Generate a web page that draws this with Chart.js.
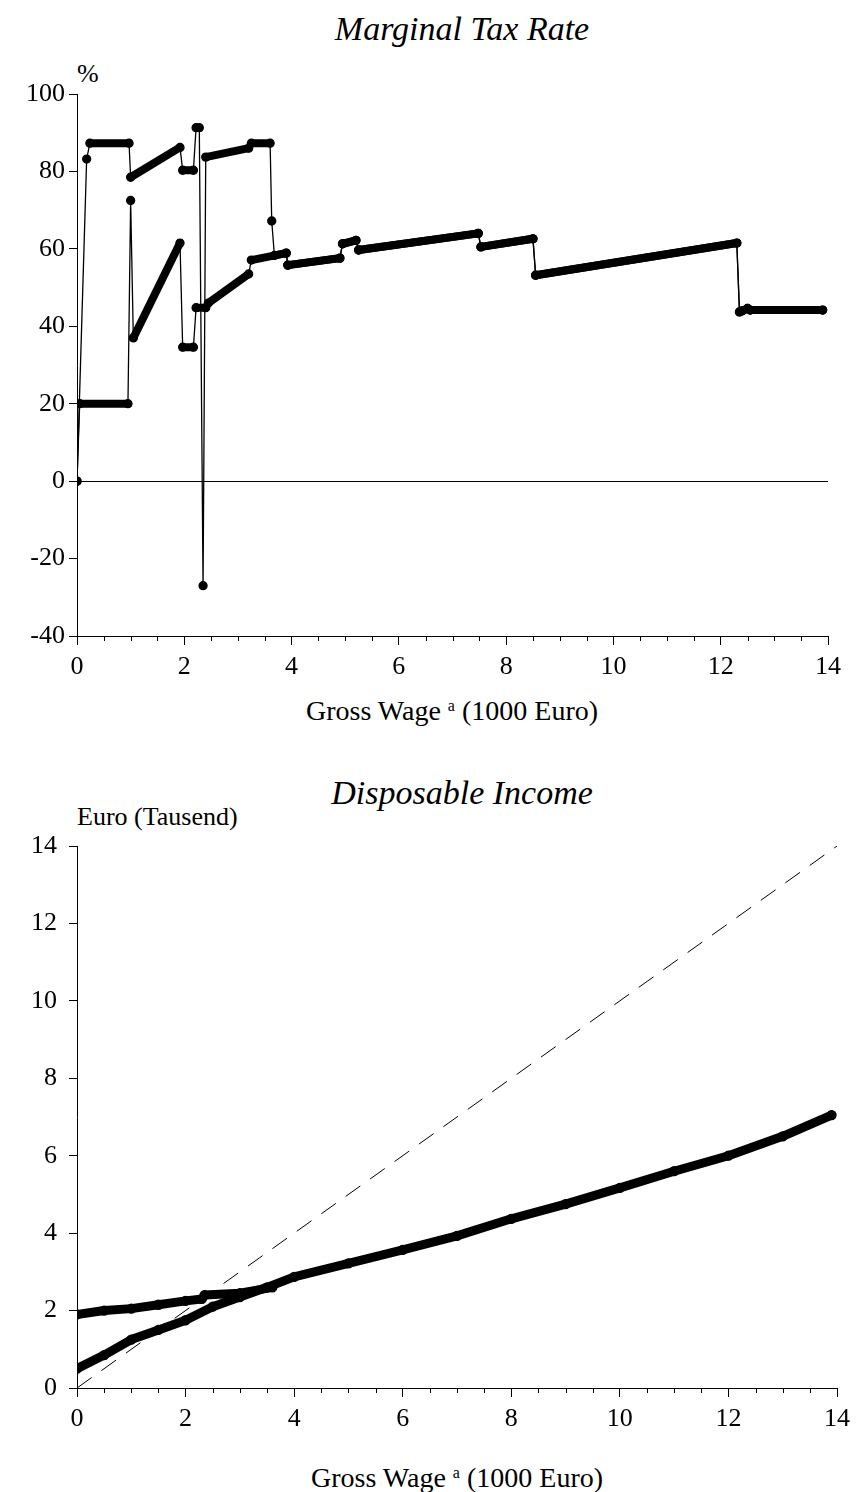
<!DOCTYPE html>
<html>
<head>
    <title>Marginal Tax Rate / Disposable Income</title>
    <script src="https://cdn.jsdelivr.net/npm/chart.js"></script>
    <style>
        body {
            margin: 0;
            background: #fff;
            width: 857px;
            height: 1492px;
            position: relative;
            overflow: hidden;
            font-family: "Liberation Serif", "Times New Roman", serif;
            color: #000;
        }
        canvas { position: absolute; left: 0; }
        #rateChart { top: 0; }
        #incomeChart { top: 740px; }
        .txt { position: absolute; line-height: 1; white-space: nowrap; }
        .title { font-style: italic; font-size: 34px; width: 500px; text-align: center; }
        .unit { font-size: 26px; }
        .xtitle { font-size: 28px; width: 500px; text-align: center; }
        .xtitle sup { font-size: 16px; vertical-align: 9px; }
    </style>
</head>
<body>
    <div class="txt title" style="left:212px; top:12px;">Marginal Tax Rate</div>
    <div class="txt unit" style="left:77px; top:61px;">%</div>
    <div class="txt xtitle" style="left:202px; top:697px;">Gross Wage <sup>a</sup> (1000 Euro)</div>

    <div class="txt title" style="left:212px; top:776px;">Disposable Income</div>
    <div class="txt unit" style="left:77px; top:804px;">Euro (Tausend)</div>
    <div class="txt xtitle" style="left:207px; top:1464px;">Gross Wage <sup>a</sup> (1000 Euro)</div>

    <canvas id="rateChart" width="857" height="740"></canvas>
    <canvas id="incomeChart" width="857" height="752"></canvas>

    <script>
        // Marginal tax rate (%) against gross wage (1000 Euro)
        // upper case (series A) until it rejoins the lower one
        const rateWageA = [0, 0.18, 0.24, 0.97, 1.0, 1.92, 1.97, 2.17, 2.22, 2.28, 2.35, 2.4, 3.2, 3.25, 3.6, 3.63, 3.68];
        const rateA     = [0, 83.2, 87.3, 87.3, 78.5, 86.2, 80.3, 80.3, 91.3, 91.3, -27, 83.7, 86, 87.3, 87.3, 67.2, 58.3];
        // lower case (series B) up to 3.25
        const rateWageB = [0, 0.05, 0.95, 1.0, 1.05, 1.92, 1.97, 2.17, 2.22, 2.4, 2.45, 3.2, 3.25];
        const rateB     = [0, 20, 20, 72.5, 37, 61.5, 34.6, 34.6, 44.8, 44.8, 46, 53.5, 57.1];
        // both cases are the same from here on
        const rateWageTail = [3.9, 3.93, 4.9, 4.95, 5.2, 5.25, 7.48, 7.53, 8.5, 8.55, 12.3, 12.35, 12.4, 12.5, 12.55, 13.9];
        const rateTail     = [58.9, 55.8, 57.6, 61.3, 62.2, 59.7, 64, 60.5, 62.6, 53.2, 61.5, 43.7, 44, 44.6, 44.2, 44.2];

        // Disposable income (1000 Euro)
        const incWageA = [0, 0.5, 1, 1.5, 2, 2.3, 2.35, 3, 3.6];
        const incomeA  = [1.9, 2.0, 2.05, 2.15, 2.25, 2.3, 2.4, 2.45, 2.6];
        const incWageB = [0, 0.5, 1, 1.5, 2, 2.5, 3, 3.5, 4, 5, 6, 7, 8, 9, 10, 11, 12, 13, 13.9];
        const incomeB  = [0.5, 0.85, 1.25, 1.5, 1.75, 2.1, 2.35, 2.6, 2.87, 3.22, 3.57, 3.93, 4.37, 4.75, 5.17, 5.6, 6.0, 6.5, 7.05];
        const diagonal = [0, 14];

        const xTicks = [0, 2, 4, 6, 8, 10, 12, 14];
        const rateTicks = [-40, -20, 0, 20, 40, 60, 80, 100];
        const incomeTicks = [0, 2, 4, 6, 8, 10, 12, 14];

        Chart.defaults.font.family = '"Liberation Serif", "Times New Roman", serif';
        Chart.defaults.font.size = 26;
        Chart.defaults.color = '#000';

        function points(xs, ys) {
            return xs.map((x, i) => ({ x: x, y: ys[i] }));
        }

        // dense runs of markers look like a thick line, jumps are thin
        function markerSeries(data, thick) {
            return {
                data: data,
                showLine: true,
                borderColor: '#000',
                backgroundColor: '#000',
                borderWidth: 1.3,
                pointRadius: thick / 2,
                pointHoverRadius: thick / 2,
                borderCapStyle: 'round',
                borderJoinStyle: 'round',
                segment: {
                    borderWidth: ctx => {
                        const dx = ctx.p1.parsed.x - ctx.p0.parsed.x;
                        const dy = ctx.p1.parsed.y - ctx.p0.parsed.y;
                        return dx > 0.08 && Math.abs(dy / dx) < 100 ? thick : 1.3;
                    }
                }
            };
        }

        // minor x ticks every 0.5
        const minorTicks = {
            id: 'minorTicks',
            afterDraw(chart) {
                const { ctx, chartArea, scales } = chart;
                const x = scales.x;
                ctx.save();
                ctx.strokeStyle = '#000';
                ctx.lineWidth = 1;
                ctx.beginPath();
                for (let v = x.min; v <= x.max + 1e-9; v += 0.5) {
                    if (Math.abs(v % 2) < 1e-9) continue;
                    const px = Math.round(x.getPixelForValue(v)) + 0.5;
                    ctx.moveTo(px, chartArea.bottom);
                    ctx.lineTo(px, chartArea.bottom + 5);
                }
                ctx.stroke();
                ctx.restore();
            }
        };

        function axes(yMin, yMax, yTicks, zeroLine, yPad) {
            return {
                x: {
                    type: 'linear',
                    min: 0,
                    max: 14,
                    afterBuildTicks: s => { s.ticks = xTicks.map(v => ({ value: v })); },
                    afterFit: s => { s.height = 104; },
                    border: { display: true, color: '#000', width: 1 },
                    grid: { drawOnChartArea: false, drawTicks: true, tickLength: 9, tickColor: '#000' },
                    ticks: { padding: 7, maxRotation: 0 }
                },
                y: {
                    type: 'linear',
                    min: yMin,
                    max: yMax,
                    afterBuildTicks: s => { s.ticks = yTicks.map(v => ({ value: v })); },
                    afterFit: s => { s.width = 77; },
                    border: { display: true, color: '#000', width: 1 },
                    grid: {
                        drawOnChartArea: zeroLine,
                        color: c => (c.tick && c.tick.value === 0 ? '#000' : 'rgba(0,0,0,0)'),
                        drawTicks: true,
                        tickLength: 8,
                        tickColor: '#000'
                    },
                    ticks: { padding: yPad }
                }
            };
        }

        const baseOptions = (pad, scales) => ({
            responsive: false,
            animation: false,
            devicePixelRatio: 1,
            layout: { padding: pad },
            plugins: { legend: { display: false }, tooltip: { enabled: false } },
            scales: scales
        });

        new Chart(document.getElementById('rateChart'), {
            type: 'scatter',
            data: {
                datasets: [
                    markerSeries(points(rateWageB.concat(rateWageTail), rateB.concat(rateTail)), 8),
                    markerSeries(points(rateWageA.concat(rateWageTail), rateA.concat(rateTail)), 8)
                ]
            },
            options: baseOptions({ top: 94, right: 29, left: 0, bottom: 0 }, axes(-40, 100, rateTicks, true, 4)),
            plugins: [minorTicks]
        });

        new Chart(document.getElementById('incomeChart'), {
            type: 'scatter',
            data: {
                datasets: [
                    {
                        data: points(diagonal, diagonal),
                        showLine: true,
                        borderColor: '#000',
                        borderWidth: 1,
                        borderDash: [18, 12],
                        pointRadius: 0
                    },
                    markerSeries(points(incWageB, incomeB), 9),
                    markerSeries(points(incWageA, incomeA), 9)
                ]
            },
            options: baseOptions({ top: 106, right: 19, left: 0, bottom: 0 }, axes(0, 14, incomeTicks, false, 12)),
            plugins: [minorTicks]
        });
    </script>
</body>
</html>
